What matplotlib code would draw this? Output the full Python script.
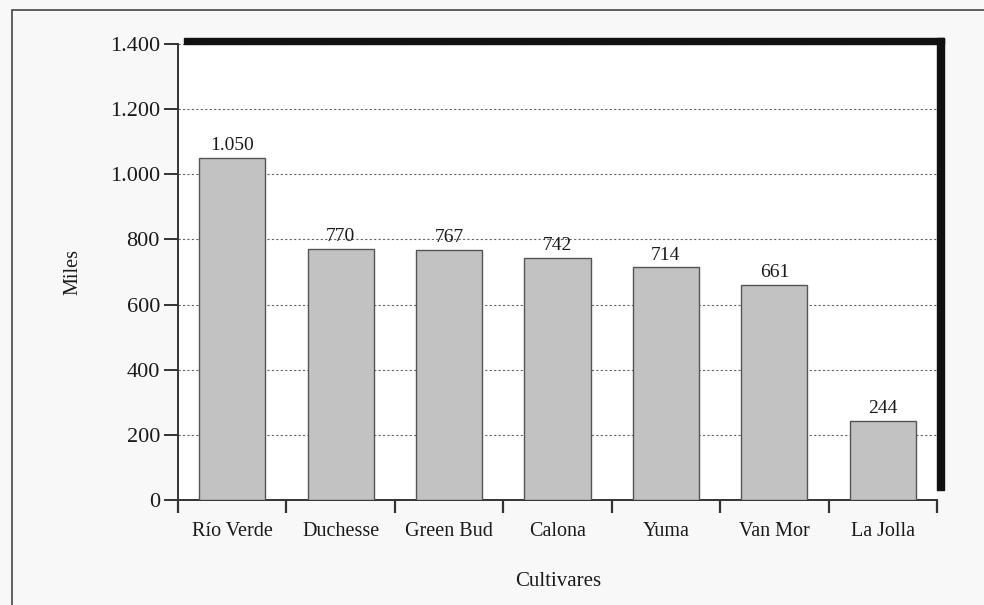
import matplotlib
matplotlib.use("Agg")
import matplotlib.pyplot as plt
from matplotlib.patches import Rectangle
from matplotlib.ticker import FuncFormatter, FixedLocator
import numpy as np

# datos
cultivares = ["Río Verde", "Duchesse", "Green Bud", "Calona", "Yuma", "Van Mor", "La Jolla"]
miles = [1050, 770, 767, 742, 714, 661, 244]
yticks = [0, 200, 400, 600, 800, 1000, 1200, 1400]

plt.rcParams['font.family'] = ['Liberation Serif', 'DejaVu Serif']

W, H = 984, 605
fig = plt.figure(figsize=(W / 100, H / 100), dpi=100, facecolor='#f8f8f8')

# marco exterior (sale por abajo y por la derecha)
top = 1 - 10 / H
fig.patches.append(Rectangle((12 / W, -0.1), 1.2, top + 0.1,
                             transform=fig.transFigure, fill=False,
                             edgecolor='#444444', linewidth=1.2))

ax = fig.add_axes([178 / W, 1 - 500 / H, (937 - 178) / W, (500 - 44) / H])
ax.set_facecolor('white')

def miles_fmt(v, pos):
    return f"{int(v):,}".replace(",", ".")

x = np.arange(len(cultivares))
barras = ax.bar(x, miles, width=0.61, color='#c2c2c2', edgecolor='#555555',
                linewidth=1.0, zorder=3)

for xi, v in zip(x, miles):
    ax.text(xi, v + 12, miles_fmt(v, None), ha='center', va='bottom',
            fontsize=14, color='#1a1a1a', zorder=4)

ax.set_xlim(-0.5, len(cultivares) - 0.5)
ax.set_ylim(0, 1400)
ax.set_yticks(yticks)
ax.yaxis.set_major_formatter(FuncFormatter(miles_fmt))

# categorias en el centro, marcas de tick en los bordes
ax.set_xticks(x)
ax.set_xticklabels(cultivares, fontsize=14.5, color='#1a1a1a')
ax.tick_params(axis='x', which='major', length=0, pad=16)
ax.xaxis.set_minor_locator(FixedLocator(np.arange(-0.5, len(cultivares), 1.0)))
ax.tick_params(axis='x', which='minor', length=9, width=1.6, color='#333333')
ax.tick_params(axis='y', length=10, width=1.4, color='#333333',
               labelsize=16, labelcolor='#1a1a1a', pad=3)

ax.grid(axis='y', linestyle=(0, (2, 2)), color='#666666', linewidth=0.8, zorder=1)
ax.set_axisbelow(True)

for s in ['top', 'right']:
    ax.spines[s].set_visible(False)
ax.spines['left'].set_color('#333333')
ax.spines['bottom'].set_color('#333333')
ax.spines['left'].set_linewidth(1.4)
ax.spines['bottom'].set_linewidth(1.4)

# pared negra (arriba y derecha)
fig.patches.append(Rectangle((184 / W, 1 - 44 / H), (944 - 184) / W, 6 / H,
                             transform=fig.transFigure, color='#111111', zorder=5))
fig.patches.append(Rectangle((937 / W, 1 - 490 / H), 7 / W, (490 - 38) / H,
                             transform=fig.transFigure, color='#111111', zorder=5))

fig.text(73 / W, 1 - 272 / H, "Miles", rotation=90, ha='center', va='center',
         fontsize=14.5, color='#1a1a1a')
fig.text(558 / W, 1 - 582 / H, "Cultivares", ha='center', va='center',
         fontsize=15, color='#1a1a1a')

fig.savefig("out.png", dpi=100, facecolor=fig.get_facecolor())
